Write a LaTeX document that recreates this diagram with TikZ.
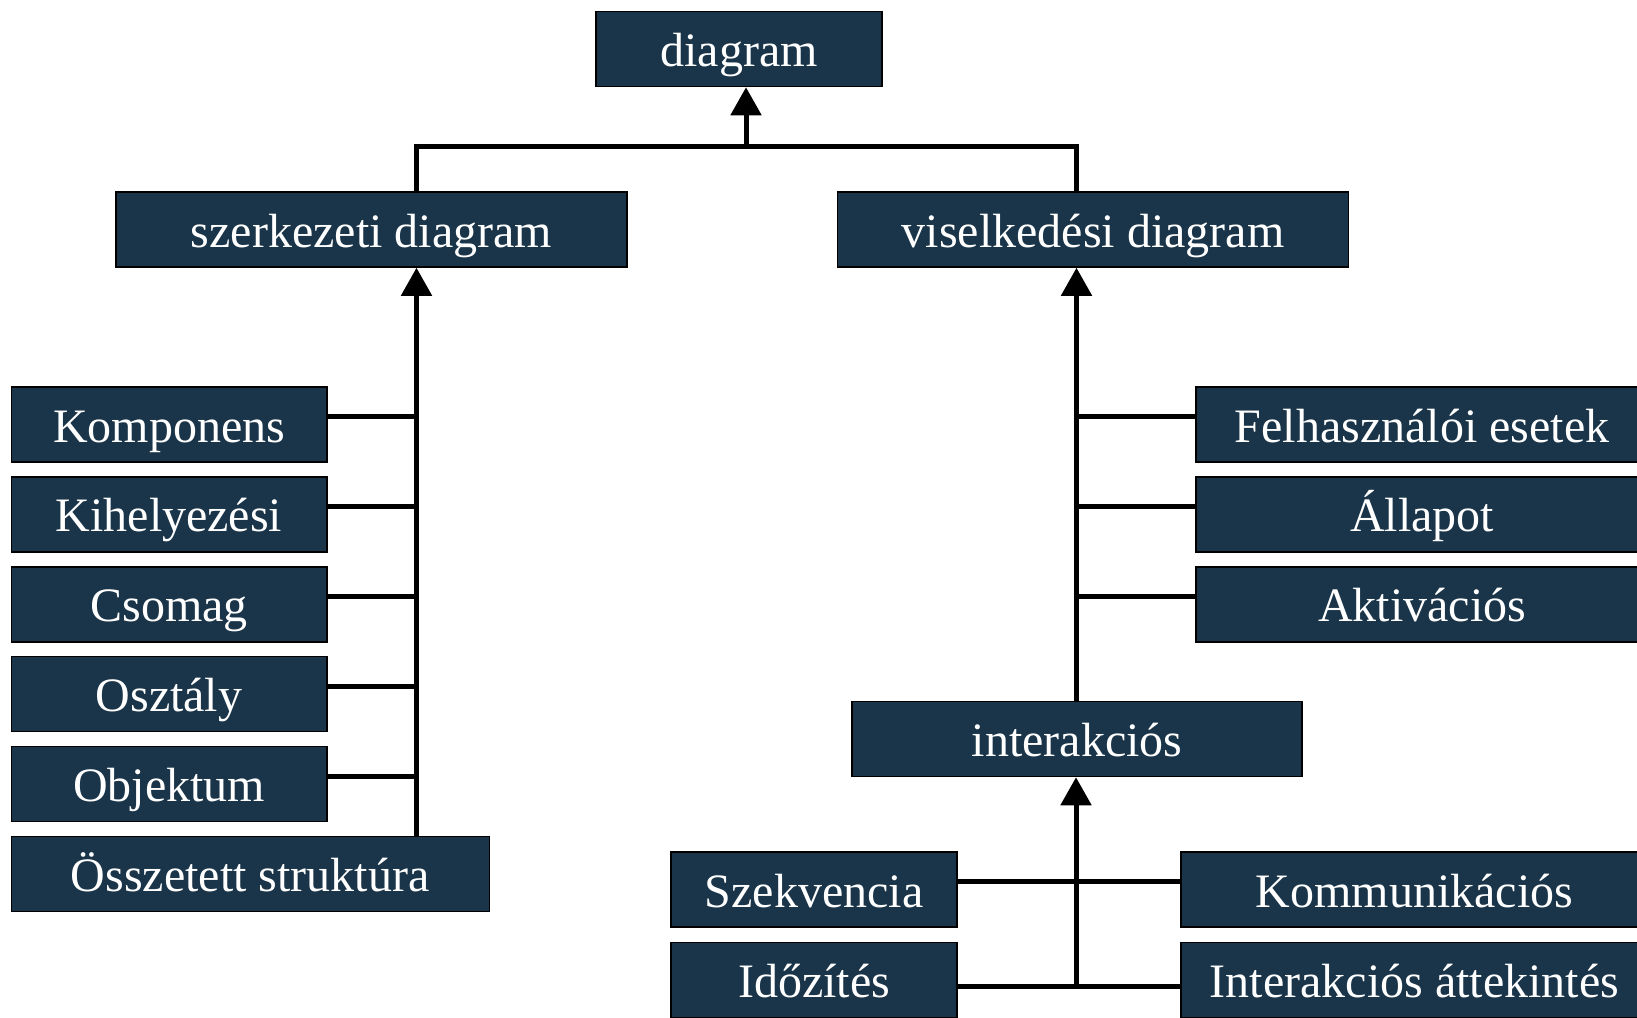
\documentclass[tikz,border=0pt]{standalone}
\usepackage{fontspec}
\setmainfont{Liberation Serif}
\usepackage{xcolor}
\usetikzlibrary{positioning, arrows.meta}
\definecolor{boxblue}{HTML}{1A3549}

\begin{document}
\begin{tikzpicture}[
        x=0.5pt, y=-0.5pt,
        node distance=6.7pt,
        box/.style={draw=black, line width=0.75pt, fill=boxblue, text=white, minimum height=37.5pt,
            text height=17.5pt, text depth=0pt, inner sep=2pt, font=\fontsize{24}{29}\selectfont},
        link/.style={draw, line width=2.5pt},
        arrow/.style={draw, line width=2.5pt, -{Triangle[width=15pt, length=14pt]}}
    ]
    \clip (0,0) rectangle (1637,1017);

    % Hauptknoten
    \node (diag) [box, minimum width=143pt] at (739,49) {diagram};
    \node (szerk) [box, minimum width=255.5pt] at (371.5,229.5) {szerkezeti diagram};
    \node (visel) [box, minimum width=255.5pt, right=104.5pt of szerk] {viselkedési diagram};

    % szerkezeti
    \node (komp) [box, minimum width=157.75pt] at (169,424.5) {Komponens};
    \node (kihely) [box, minimum width=157.75pt, below=of komp] {Kihelyezési};
    \node (csomag) [box, minimum width=157.75pt, below=of kihely] {Csomag};
    \node (osztaly) [box, minimum width=157.75pt, below=of csomag] {Osztály};
    \node (obj) [box, minimum width=157.75pt, below=of osztaly] {Objektum};
    \node (ossz) [box, minimum width=239pt, below=of obj.south west, anchor=north west] {Összetett struktúra};

    % viselkedési
    \node (felh) [box, minimum width=226pt] at (1422,424.5) {Felhasználói esetek};
    \node (allapot) [box, minimum width=226pt, below=of felh] {Állapot};
    \node (aktiv) [box, minimum width=226pt, below=of allapot] {Aktivációs};
    \node (inter) [box, minimum width=225pt] at (1077,739) {interakciós};

    % interakciós
    \node (szekv) [box, minimum width=143pt] at (814,889.5) {Szekvencia};
    \node (ido) [box, minimum width=143pt, below=7pt of szekv] {Időzítés};
    \node (komm) [box, minimum width=233.5pt] at (1414.5,889.5) {Kommunikációs};
    \node (attek) [box, minimum width=233.5pt, below=7pt of komm] {Interakciós áttekintés};

    % Gerinc
    \coordinate (ltr) at (416.5,146);
    \coordinate (rtr) at (1076.5,146);
    \coordinate (dtr) at (746,146);
    \coordinate (btr) at (1076,0);

    % Verbindungen
    \draw[link] (szerk.north -| ltr) -- (ltr) -- (rtr) -- (visel.north -| rtr);
    \draw[arrow] (dtr) -- (diag.south -| dtr);
    \draw[arrow] (ossz.north -| ltr) -- (szerk.south -| ltr);
    \foreach \n in {komp,kihely,csomag,osztaly,obj}
        \draw[link] ([yshift=4pt]\n.east) coordinate (\n-e) -- (\n-e -| ltr);
    \draw[arrow] (inter.north -| rtr) -- (visel.south -| rtr);
    \foreach \n in {felh,allapot,aktiv}
        \draw[link] ([yshift=4pt]\n.west) coordinate (\n-w) -- (\n-w -| rtr);
    \draw[link] ([yshift=4pt]szekv.east) -- ([yshift=4pt]komm.west);
    \draw[link] ([yshift=-3pt]ido.east) coordinate (ido-e) -- ([yshift=-3pt]attek.west);
    \draw[arrow] (ido-e -| btr) -- (inter.south -| btr);

\end{tikzpicture}
\end{document}
